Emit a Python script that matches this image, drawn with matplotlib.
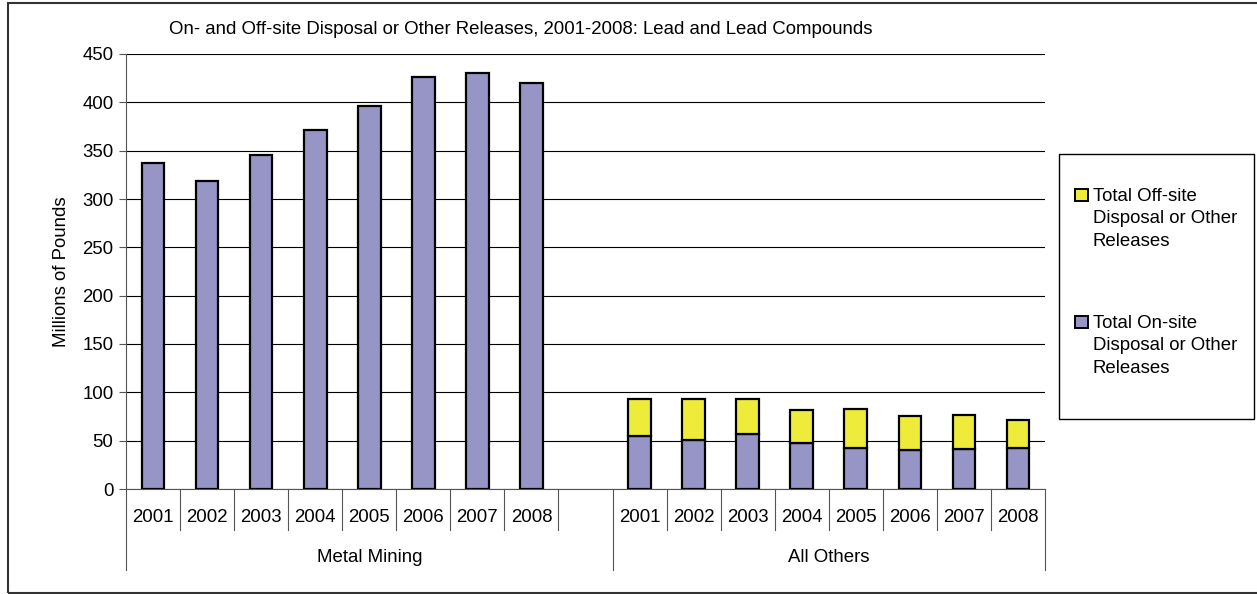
import matplotlib
matplotlib.use("Agg")
import matplotlib.pyplot as plt
from matplotlib.patches import Rectangle
from matplotlib.lines import Line2D

plt.rcParams['font.family'] = ['Liberation Sans', 'DejaVu Sans']

years = ['2001', '2002', '2003', '2004', '2005', '2006', '2007', '2008']
groups = ['Metal Mining', 'All Others']
mining_onsite = [337, 319, 346, 371, 396, 426, 430, 420]
others_onsite = [54.5, 50.3, 56.6, 47.6, 42.4, 40.3, 41.3, 42.4]
others_offsite = [38.2, 42.4, 36.1, 34.0, 40.2, 35.7, 35.4, 28.8]
yticks = [0, 50, 100, 150, 200, 250, 300, 350, 400, 450]
title = 'On- and Off-site Disposal or Other Releases, 2001-2008: Lead and Lead Compounds'
ylabel = 'Millions of Pounds'
legend_labels = ['Total Off-site\nDisposal or Other\nReleases',
                 'Total On-site\nDisposal or Other\nReleases']

c_on = '#9794C6'
c_off = '#EEEB3B'
FS = 13.4

W, H = 1257, 594
fig = plt.figure(figsize=(W / 100, H / 100), dpi=100)

def fx(px):
    return px / W

def fy(py):
    return 1 - py / H

ax = fig.add_axes([fx(126), fy(489), fx(1045) - fx(126), fy(54) - fy(489)])

n = len(years)
pos_m = list(range(n))
pos_o = [n + 1 + i for i in range(n)]
bw = 0.42
ax.bar(pos_m + pos_o, mining_onsite + others_onsite, width=bw, color=c_on,
       edgecolor='black', linewidth=1.6, zorder=3)
ax.bar(pos_o, others_offsite, bottom=others_onsite, width=bw, color=c_off,
       edgecolor='black', linewidth=1.6, zorder=3)

ax.set_xlim(-0.5, 2 * n + 0.5)
ax.set_ylim(0, 450)
ax.set_yticks(yticks)
ax.set_yticklabels([str(t) for t in yticks], fontsize=FS)
ax.yaxis.grid(True, color='black', linewidth=0.8, zorder=0)
ax.set_axisbelow(True)
ax.tick_params(axis='y', direction='out', length=5, width=0.8, color='#555555', pad=4)
ax.set_xticks([])
for s in ['top', 'right']:
    ax.spines[s].set_visible(False)
for s in ['left', 'bottom']:
    ax.spines[s].set_color('#555555')
    ax.spines[s].set_linewidth(0.8)

ax.set_ylabel(ylabel, fontsize=FS)
ax.yaxis.set_label_coords((70 - 126) / 919, 0.5)

tr = ax.get_xaxis_transform()
y_year = (489 - 517) / 435
y_short = (489 - 530) / 435
y_long = (489 - 570) / 435
y_group = (489 - 557) / 435

for p, yr in zip(pos_m + pos_o, years + years):
    ax.text(p, y_year, yr, transform=tr, ha='center', va='center', fontsize=FS)

short_seps = [i + 0.5 for i in range(n)] + [n + 1 + i + 0.5 for i in range(n - 1)]
long_seps = [-0.5, n + 0.5, 2 * n + 0.5]
for xs in short_seps:
    ax.add_line(Line2D([xs, xs], [0, y_short], transform=tr, color='#555555',
                       linewidth=0.8, clip_on=False))
for xs in long_seps:
    ax.add_line(Line2D([xs, xs], [0, y_long], transform=tr, color='#555555',
                       linewidth=0.8, clip_on=False))

ax.text((-0.5 + n + 0.5) / 2, y_group, groups[0], transform=tr, ha='center',
        va='center', fontsize=FS)
ax.text((n + 0.5 + 2 * n + 0.5) / 2, y_group, groups[1], transform=tr, ha='center',
        va='center', fontsize=FS)

fig.text(fx(521), fy(30), title, ha='center', va='center', fontsize=FS)

# outer border (right edge falls outside the image, as in the reference)
fig.patches.append(Rectangle((fx(7.5), fy(592.5)), fx(1270) - fx(7.5), fy(3) - fy(592.5),
                             transform=fig.transFigure, fill=False,
                             edgecolor='#333333', linewidth=1.5))

# legend box
fig.patches.append(Rectangle((fx(1059), fy(419)), fx(1254) - fx(1059), fy(154) - fy(419),
                             transform=fig.transFigure, fill=False,
                             edgecolor='black', linewidth=1.0))
for lbl, col, ycen in [(legend_labels[0], c_off, 195), (legend_labels[1], c_on, 322)]:
    fig.patches.append(Rectangle((fx(1075), fy(ycen + 6)), fx(13), 12 / H,
                                 transform=fig.transFigure, facecolor=col,
                                 edgecolor='black', linewidth=1.4))
    fig.text(fx(1093), fy(ycen - 7), lbl, ha='left', va='top', fontsize=FS,
             linespacing=1.42)

fig.savefig('out.png', dpi=100)
